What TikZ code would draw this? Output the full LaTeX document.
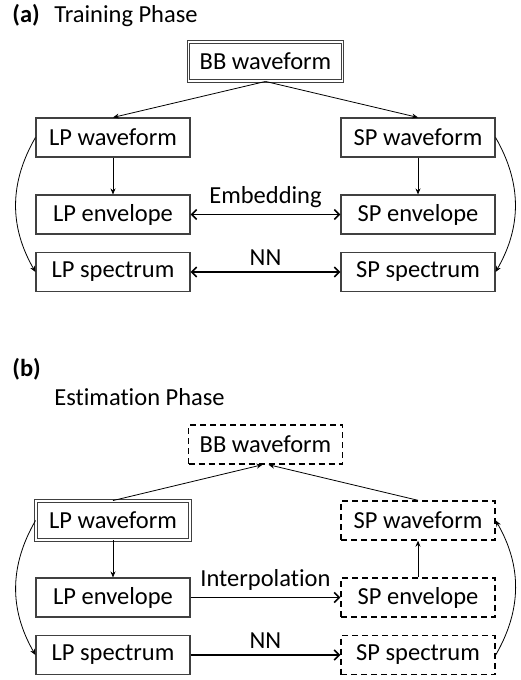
\documentclass[tikz,border=0pt]{standalone}
\usepackage{fontspec}
\setmainfont[Ligatures=NoCommon]{Carlito}
\usetikzlibrary{arrows.meta}
\begin{document}
\begin{tikzpicture}[x=1pt,y=-1pt,
  box/.style={draw=black!75,line width=1.1pt,minimum width=154pt,minimum height=39pt,inner sep=0pt},
  ohut/.style={draw,line width=0.8pt,-{Stealth[length=6pt,width=5pt]}},
  paksu/.style={draw,line width=1.6pt,{Straight Barb[length=5pt,width=10pt]}-{Straight Barb[length=5pt,width=10pt]}},
  yksi/.style={draw,line width=1.6pt,-{Straight Barb[length=5pt,width=10pt]}},
  kaksois/.style={double,double distance=1.6pt,line width=0.9pt},
  katko/.style={draw=black,dash pattern=on 6pt off 4pt,line width=1.4pt}]
\fontsize{24.5}{29}\selectfont
\useasboundingbox (0,0) rectangle (520,680);
\newcommand\lohkot{
\node[box,bbtyyli] (bb) at (265.5,61.5) {BB waveform};
\node[box,lptyyli] (lpw) at (113,137.5) {LP waveform};
\node[box] (lpe) at (113,214.5) {LP envelope};
\node[box] (lps) at (113,272) {LP spectrum};
\node[box,sptyyli] (spw) at (418,137.5) {SP waveform};
\node[box,sptyyli] (spe) at (418,214.5) {SP envelope};
\node[box,sptyyli] (sps) at (418,272) {SP spectrum};
}
\begin{scope}[bbtyyli/.style={kaksois},lptyyli/.style={},sptyyli/.style={}]
\node[anchor=base west,font=\bfseries] (ta) at (4,22) {(a)};
\node[anchor=base west] (tta) at (46,22) {Training Phase};
\lohkot
\path[ohut] (bb.south) -- (lpw.north);
\path[ohut] (bb.south) -- (spw.north);
\path[ohut] (lpw) -- (lpe);
\path[ohut] (spw) -- (spe);
\path[ohut] (lpw.west) to[bend right=30] (lps.west);
\path[ohut] (spw.east) to[bend left=30] (sps.east);
\path[paksu] (lpe) -- node[above=-2pt] {Embedding} (spe);
\path[paksu] (lps) -- node[above=-2pt] {NN} (sps);
\end{scope}
\begin{scope}[yshift=-383pt,bbtyyli/.style={katko},lptyyli/.style={kaksois},sptyyli/.style={katko}]
\node[anchor=base west,font=\bfseries] (tb) at (4,-7) {(b)};
\node[anchor=base west] (ttb) at (46,22) {Estimation Phase};
\lohkot
\path[ohut] (lpw.north) -- ([xshift=-3pt]bb.south);
\path[ohut] (spw.north) -- ([xshift=3pt]bb.south);
\path[ohut] (lpw) -- (lpe);
\path[ohut] (spe) -- (spw);
\path[ohut] (lpw.west) to[bend right=30] (lps.west);
\path[ohut] (sps.east) to[bend right=30] (spw.east);
\path[yksi] (lpe) -- node[above=-2pt] {Interpolation} (spe);
\path[yksi] (lps) -- node[above=-2pt] {NN} (sps);
\end{scope}
\end{tikzpicture}
\end{document}
